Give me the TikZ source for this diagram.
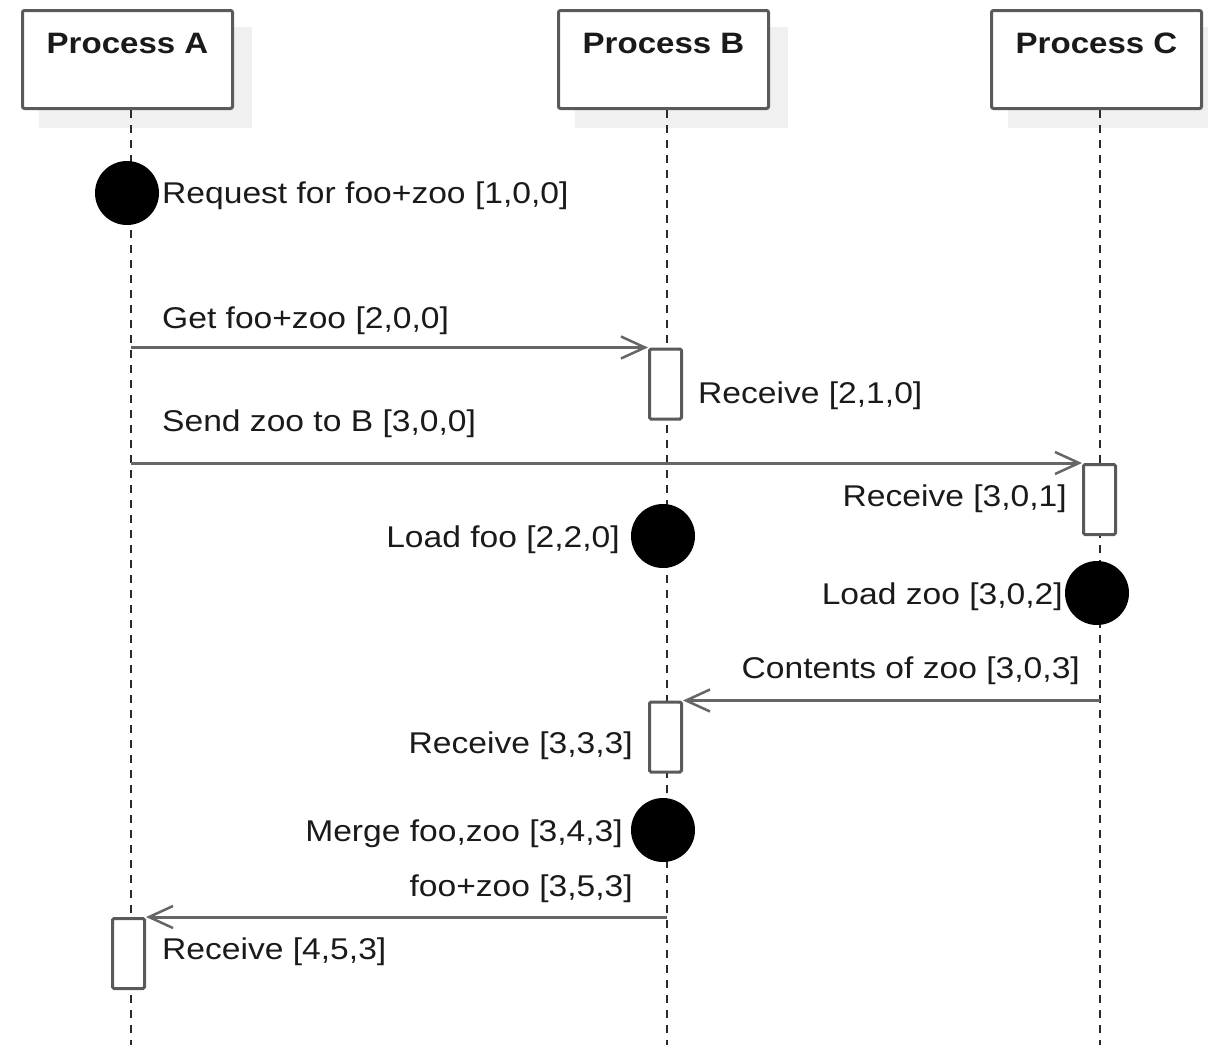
\documentclass[tikz,border=0pt]{standalone}
\usepackage{fontspec}
\setmainfont{Liberation Sans}[FakeStretch=1.12]
\usetikzlibrary{arrows.meta,backgrounds}

\definecolor{boxgray}{HTML}{5A5A5A}
\definecolor{msggray}{HTML}{666666}
\definecolor{shadowgray}{HTML}{F0F0F0}
\definecolor{inkcol}{HTML}{1A1A1A}
\definecolor{linecol}{HTML}{2A2A2A}

\tikzset{
  header/.style={draw=boxgray, line width=3pt, rounded corners=2pt, fill=white,
    minimum width=210pt, minimum height=98pt, inner sep=0pt},
  headtext/.style={font=\bfseries\fontsize{29.5}{34}\selectfont, text=inkcol, inner sep=0pt},
  lifeline/.style={draw=linecol, line width=2.5pt, dash pattern=on 8pt off 7pt},
  actbox/.style={draw=boxgray, line width=3pt, rounded corners=1.5pt, fill=white,
    minimum width=32pt, minimum height=70pt, inner sep=0pt},
  event/.style={circle, fill=black, minimum size=64pt, inner sep=0pt},
  msg/.style={draw=msggray, line width=3pt,
    -{Straight Barb[length=24pt, width=22pt, line width=2.5pt]}},
  lbl/.style={font=\fontsize{30}{36}\selectfont, text=inkcol, inner sep=0pt},
}

\begin{document}
\begin{tikzpicture}[x=1pt, y=-1pt]
\useasboundingbox (0,0) rectangle (1208,1045);

% process headers
\node[header] (A) at (127.5,59.5) {};
\node[header] (B) at (663.5,59.5) {};
\node[header] (C) at (1096.5,59.5) {};
\node[headtext, anchor=base] (At) at (127.5,53) {Process A};
\node[headtext, anchor=base] (Bt) at (663.5,53) {Process B};
\node[headtext, anchor=base] (Ct) at (1096.5,53) {Process C};

% drop shadows behind the headers
\begin{scope}[on background layer]
  \foreach \p in {A,B,C}
    \fill[shadowgray] ([shift={(18,18)}]\p.north west) rectangle ([shift={(18,18)}]\p.south east);
\end{scope}

% lifeline ends
\coordinate (la) at (131,1045);
\coordinate (lb) at (667,1045);
\coordinate (lc) at (1100,1045);

\begin{scope}[on background layer]
  \draw[lifeline] (A.south -| la) -- (la);
  \draw[lifeline] (B.south -| lb) -- (lb);
  \draw[lifeline] (C.south -| lc) -- (lc);
\end{scope}

% activation bars
\node[actbox] (rb1) at (665.5,384) {};
\node[actbox] (rc1) at (1099.5,499.5) {};
\node[actbox] (rb2) at (665.5,737) {};
\node[actbox] (ra1) at (128.5,953.5) {};

% local events
\node[event] (e1) at (127,193) {};
\node[event] (e2) at (663,536) {};
\node[event] (e3) at (1097,593) {};
\node[event] (e4) at (663,830) {};

% messages
\draw[msg] (rb1.north west -| la) -- (rb1.north west);
\draw[msg] (rc1.north west -| la) -- (rc1.north west);
\draw[msg] (rb2.north east -| lc) -- (rb2.north east);
\draw[msg] (ra1.north east -| lb) -- (ra1.north east);

% labels
\node[lbl, anchor=west] (t1) at (162,196) {Request for foo+zoo [1,0,0]};
\node[lbl, anchor=west] (t2) at (162,321) {Get foo+zoo [2,0,0]};
\node[lbl, anchor=west] (t3) at (698,396) {Receive [2,1,0]};
\node[lbl, anchor=west] (t4) at (162,424) {Send zoo to B [3,0,0]};
\node[lbl, anchor=east] (t5) at (1067,499) {Receive [3,0,1]};
\node[lbl, anchor=east] (t6) at (620,540) {Load foo [2,2,0]};
\node[lbl, anchor=east] (t7) at (1063,597) {Load zoo [3,0,2]};
\node[lbl, anchor=east] (t8) at (1080,671) {Contents of zoo [3,0,3]};
\node[lbl, anchor=east] (t9) at (633,746) {Receive [3,3,3]};
\node[lbl, anchor=east] (t10) at (623,834) {Merge foo,zoo [3,4,3]};
\node[lbl, anchor=east] (t11) at (633,889) {foo+zoo [3,5,3]};
\node[lbl, anchor=west] (t12) at (162,952) {Receive [4,5,3]};
\end{tikzpicture}
\end{document}
